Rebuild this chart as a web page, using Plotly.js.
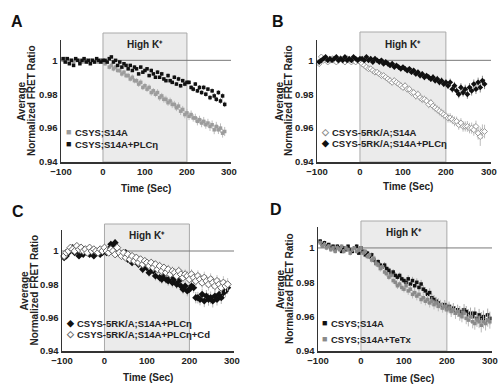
<!DOCTYPE html>
<html><head><meta charset="utf-8">
<script src="https://cdn.plot.ly/plotly-3.0.1.min.js"></script>
<style>html,body{margin:0;padding:0;background:#fff}#chart{width:500px;height:390px}</style>
</head><body><div id="chart"></div><script>
// ---------- data ----------
const timeAC = [-95,-90,-85,-80,-75,-70,-65,-60,-55,-50,-45,-40,-35,-30,-25,-20,-15,-10,-5,0,
  5,10,15,20,25,30,35,40,45,50,55,60,65,70,75,80,85,90,95,100,
  105,110,115,120,125,130,135,140,145,150,155,160,165,170,175,180,185,190,195,200,
  205,210,215,220,225,230,235,240,245,250,255,260,265,270,275,280,285,290];
const timeD = [-95,-90,-85,-80,-75,-70,-65,-60,-55,-50,-45,-40,-35,-30,-25,-20,-15,-10,-5,0,
  5,10,15,20,25,30,35,40,45,50,55,60,65,70,75,80,85,90,95,100,
  105,110,115,120,125,130,135,140,145,150,155,160,165,170,175,180,185,190,195,200,
  205,210,215,220,225,230,235,240,245,250,255,260,265,270,275,280,285,290,295,300];

const xTicks = [-100,0,100,200,300];
const yTicks = [0.94,0.96,0.98,1];
const yTickText = ['0.94','0.96','0.98','1'];

// Panel A
const nameA1 = 'CSYS;S14A';
const valA1 = [1.000,1.001,0.999,1.000,1.000,0.999,1.000,1.000,0.999,0.999,1.000,1.000,0.999,1.000,1.000,0.999,1.000,0.999,1.000,0.999,
  0.998,0.999,0.996,0.997,0.995,0.996,0.994,0.994,0.992,0.993,0.991,0.991,0.989,0.990,0.988,0.988,0.986,0.987,0.984,0.985,
  0.983,0.984,0.981,0.982,0.980,0.981,0.978,0.979,0.977,0.977,0.975,0.976,0.974,0.974,0.972,0.973,0.970,0.971,0.968,0.969,
  0.967,0.968,0.966,0.966,0.964,0.965,0.963,0.964,0.962,0.963,0.961,0.962,0.959,0.961,0.959,0.960,0.957,0.958];
const errA1 = [0.001,0.001,0.0012,0.001,0.0008,0.001,0.0012,0.001,0.001,0.0008,0.001,0.0012,0.001,0.001,0.0008,0.001,0.001,0.0012,0.001,0.001,
  0.0012,0.0012,0.0014,0.0012,0.0015,0.0014,0.0012,0.0015,0.0016,0.0014,0.0015,0.0016,0.0015,0.0017,0.0016,0.0015,0.0017,0.0018,0.0016,0.0017,
  0.0017,0.0018,0.0019,0.0017,0.0018,0.002,0.0019,0.0018,0.002,0.0021,0.0019,0.002,0.0022,0.0021,0.002,0.0022,0.0023,0.0021,0.0022,0.0023,
  0.0023,0.0024,0.0022,0.0025,0.0024,0.0023,0.0025,0.0026,0.0024,0.0025,0.0027,0.0025,0.0026,0.0027,0.0025,0.0028,0.0026,0.0027];
const nameA2 = 'CSYS;S14A+PLCη';
const valA2 = [1.001,0.999,1.001,0.998,1.000,0.997,1.001,1.000,0.998,1.000,1.001,0.999,1.000,0.998,1.000,0.999,1.001,1.000,0.999,1.000,
  1.000,0.999,1.001,1.002,0.999,1.000,0.997,0.999,0.996,0.998,0.997,0.995,0.997,0.994,0.996,0.995,0.992,0.996,0.993,0.994,
  0.995,0.991,0.994,0.992,0.990,0.993,0.990,0.992,0.989,0.988,0.991,0.988,0.987,0.990,0.986,0.989,0.985,0.988,0.986,0.987,
  0.987,0.984,0.983,0.986,0.982,0.984,0.981,0.984,0.980,0.983,0.978,0.982,0.979,0.977,0.981,0.976,0.979,0.974];
const errA2 = [0.0006,0.0007,0.0006,0.0008,0.0006,0.0007,0.0006,0.0007,0.0008,0.0006,0.0007,0.0006,0.0007,0.0008,0.0006,0.0007,0.0006,0.0007,0.0006,0.0007,
  0.0007,0.0008,0.0007,0.0008,0.0009,0.0007,0.0008,0.0009,0.0008,0.0007,0.0009,0.0008,0.0009,0.0008,0.001,0.0009,0.0008,0.001,0.0009,0.001,
  0.0009,0.001,0.0011,0.0009,0.001,0.0011,0.001,0.0012,0.0011,0.001,0.0012,0.0011,0.001,0.0012,0.0011,0.0013,0.0012,0.0011,0.0013,0.0012,
  0.0012,0.0013,0.0014,0.0012,0.0013,0.0014,0.0013,0.0015,0.0014,0.0013,0.0015,0.0014,0.0016,0.0015,0.0014,0.0016,0.0015,0.0016];

// Panel B
const nameB1 = 'CSYS-5RK/A;S14A';
const valB1 = [0.998,1.002,1.000,1.001,0.999,1.000,1.001,1.000,0.999,1.000,1.001,1.000,0.999,1.001,1.000,0.999,1.000,0.999,1.000,0.999,
  0.998,0.997,0.996,0.995,0.995,0.994,0.993,0.993,0.992,0.991,0.991,0.990,0.989,0.988,0.987,0.988,0.987,0.986,0.985,0.984,
  0.985,0.983,0.983,0.981,0.981,0.979,0.980,0.978,0.977,0.977,0.976,0.974,0.975,0.973,0.972,0.971,0.970,0.969,0.968,0.967,
  0.966,0.966,0.965,0.964,0.964,0.962,0.963,0.961,0.961,0.961,0.960,0.960,0.959,0.961,0.957,0.955,0.958,0.958];
const errB1 = [0.0012,0.0015,0.0012,0.0013,0.0011,0.0012,0.0014,0.0012,0.0011,0.0013,0.0012,0.0014,0.0012,0.0011,0.0013,0.0012,0.0011,0.0013,0.0012,0.0014,
  0.0015,0.0016,0.0015,0.0017,0.0016,0.0018,0.0017,0.0016,0.0018,0.0017,0.0019,0.0018,0.0017,0.0019,0.0018,0.002,0.0019,0.0018,0.002,0.0019,
  0.002,0.0021,0.002,0.0022,0.0021,0.0023,0.0022,0.0021,0.0023,0.0022,0.0024,0.0023,0.0022,0.0024,0.0025,0.0024,0.0026,0.0025,0.0027,0.0026,
  0.0027,0.0028,0.0027,0.0029,0.0028,0.003,0.0029,0.0031,0.003,0.0032,0.0031,0.0033,0.0035,0.0034,0.0038,0.0055,0.0042,0.004];
const nameB2 = 'CSYS-5RK/A;S14A+PLCη';
const valB2 = [0.999,1.000,1.001,1.002,1.000,1.001,1.000,1.001,1.002,1.000,1.001,1.000,1.002,1.000,1.001,1.000,1.002,1.001,1.000,1.001,
  1.001,1.000,1.002,1.000,1.001,0.999,1.001,1.000,0.999,1.000,0.998,0.999,0.998,0.997,0.998,0.996,0.997,0.996,0.995,0.996,
  0.995,0.994,0.995,0.993,0.994,0.992,0.993,0.991,0.992,0.990,0.991,0.990,0.989,0.990,0.988,0.989,0.987,0.988,0.986,0.987,
  0.985,0.987,0.983,0.985,0.982,0.980,0.984,0.981,0.983,0.980,0.984,0.982,0.986,0.983,0.987,0.984,0.988,0.986];
const errB2 = [0.0008,0.0009,0.0008,0.0009,0.0008,0.0009,0.0008,0.0009,0.0008,0.0009,0.0008,0.0009,0.0008,0.0009,0.0008,0.0009,0.0008,0.0009,0.0008,0.0009,
  0.0009,0.001,0.0009,0.001,0.0011,0.001,0.0011,0.001,0.0012,0.0011,0.0012,0.0011,0.0013,0.0012,0.0013,0.0012,0.0014,0.0013,0.0014,0.0013,
  0.0014,0.0015,0.0014,0.0016,0.0015,0.0016,0.0015,0.0017,0.0016,0.0017,0.0016,0.0018,0.0017,0.0018,0.0017,0.0019,0.0018,0.0019,0.0018,0.002,
  0.002,0.0022,0.0021,0.0023,0.0022,0.0024,0.0025,0.0024,0.0026,0.0027,0.0026,0.0028,0.0027,0.0029,0.0028,0.003,0.0029,0.003];

// Panel C
const nameC1 = 'CSYS-5RK/A;S14A+PLCη';
const valC1 = [0.996,0.997,0.999,1.001,1.002,0.999,1.000,0.997,1.002,0.998,1.001,0.999,0.998,1.000,0.997,0.999,1.000,0.998,0.999,1.001,
  0.999,1.001,1.004,1.003,1.005,1.000,0.999,0.998,0.997,0.999,0.995,0.996,0.993,0.995,0.994,0.992,0.993,0.989,0.991,0.990,
  0.987,0.990,0.988,0.985,0.989,0.984,0.983,0.985,0.983,0.982,0.984,0.981,0.983,0.980,0.982,0.979,0.977,0.979,0.976,0.977,
  0.979,0.978,0.972,0.972,0.971,0.974,0.970,0.973,0.971,0.972,0.970,0.973,0.971,0.974,0.972,0.975,0.976,0.978];
const errC1 = [0.0015,0.0016,0.0015,0.0017,0.0016,0.0015,0.0017,0.0016,0.0015,0.0017,0.0016,0.0015,0.0017,0.0016,0.0015,0.0016,0.0017,0.0015,0.0016,0.0017,
  0.0018,0.0019,0.0022,0.002,0.0021,0.0019,0.002,0.0022,0.0021,0.002,0.0022,0.0023,0.0021,0.0022,0.0024,0.0023,0.0022,0.0024,0.0025,0.0023,
  0.0025,0.0026,0.0024,0.0027,0.0026,0.0028,0.0027,0.0026,0.0028,0.0029,0.0027,0.0029,0.003,0.0028,0.003,0.0031,0.0029,0.0031,0.0032,0.003,
  0.0032,0.0033,0.0034,0.0035,0.0036,0.0034,0.0037,0.0036,0.0038,0.0037,0.0039,0.0038,0.0037,0.0039,0.0038,0.004,0.0038,0.0039];
const nameC2 = 'CSYS-5RK/A;S14A+PLCη+Cd';
const valC2 = [0.997,0.999,1.000,1.002,1.001,1.000,1.003,1.001,1.002,1.000,1.001,0.999,1.002,1.000,1.001,1.000,0.999,1.001,1.000,1.002,
  1.000,0.999,1.001,1.000,0.998,1.002,0.999,0.997,0.999,0.996,0.998,0.995,0.997,0.994,0.996,0.993,0.995,0.992,0.994,0.993,
  0.991,0.993,0.990,0.992,0.989,0.991,0.988,0.990,0.987,0.989,0.986,0.988,0.987,0.985,0.988,0.986,0.984,0.986,0.985,0.983,
  0.986,0.984,0.982,0.985,0.983,0.981,0.984,0.982,0.980,0.983,0.981,0.979,0.982,0.980,0.978,0.981,0.979,0.980];
const errC2 = [0.0014,0.0015,0.0014,0.0016,0.0015,0.0014,0.0016,0.0015,0.0014,0.0016,0.0015,0.0014,0.0016,0.0015,0.0014,0.0015,0.0016,0.0014,0.0015,0.0016,
  0.0017,0.0018,0.002,0.0019,0.002,0.0018,0.0019,0.0021,0.002,0.0019,0.0021,0.0022,0.002,0.0021,0.0023,0.0022,0.0021,0.0023,0.0024,0.0022,
  0.0024,0.0025,0.0023,0.0026,0.0025,0.0027,0.0026,0.0025,0.0027,0.0028,0.0026,0.0028,0.0029,0.0027,0.0029,0.003,0.0028,0.003,0.0031,0.0029,
  0.0031,0.0032,0.0033,0.0034,0.0035,0.0033,0.0036,0.0035,0.0037,0.0036,0.0038,0.0037,0.0036,0.0038,0.0037,0.0039,0.0037,0.0038];

// Panel D
const nameD1 = 'CSYS;S14A';
const valD1 = [1.004,1.002,1.003,1.001,1.002,1.000,1.001,0.999,1.001,1.000,0.998,1.000,0.999,1.001,0.999,0.998,1.000,1.001,0.997,1.000,
  0.998,0.996,0.997,0.995,0.996,0.993,0.991,0.992,0.990,0.989,0.990,0.988,0.987,0.985,0.986,0.984,0.983,0.984,0.982,0.981,
  0.980,0.982,0.979,0.981,0.978,0.980,0.977,0.979,0.976,0.975,0.973,0.974,0.971,0.970,0.969,0.968,0.967,0.966,0.967,0.965,
  0.966,0.964,0.965,0.963,0.964,0.963,0.962,0.964,0.963,0.961,0.962,0.960,0.962,0.959,0.961,0.959,0.960,0.958,0.961,0.959];
const errD1 = [0.0012,0.0011,0.0013,0.0012,0.0011,0.0013,0.0012,0.0011,0.0013,0.0012,0.0011,0.0013,0.0012,0.0011,0.0013,0.0012,0.0011,0.0013,0.0012,0.0011,
  0.0014,0.0015,0.0014,0.0016,0.0015,0.0017,0.0016,0.0015,0.0017,0.0016,0.0018,0.0017,0.0016,0.0018,0.0017,0.0019,0.0018,0.0017,0.0019,0.0018,
  0.002,0.0021,0.002,0.0022,0.0021,0.0023,0.0022,0.0024,0.0023,0.0022,0.0024,0.0025,0.0024,0.0026,0.0025,0.0027,0.0026,0.0025,0.0027,0.0028,
  0.0028,0.003,0.0029,0.0031,0.003,0.0032,0.0031,0.0033,0.0032,0.0034,0.0033,0.0035,0.0034,0.0036,0.0035,0.0037,0.0036,0.0038,0.0037,0.0039];
const nameD2 = 'CSYS;S14A+TeTx';
const valD2 = [1.003,1.001,1.002,1.000,1.001,0.999,1.000,0.998,1.000,0.999,1.001,0.998,1.000,0.999,0.997,0.999,1.000,0.998,0.999,1.000,
  0.997,0.998,0.995,0.996,0.993,0.994,0.991,0.990,0.988,0.989,0.986,0.985,0.983,0.984,0.981,0.980,0.978,0.979,0.977,0.976,
  0.978,0.975,0.976,0.973,0.974,0.972,0.973,0.970,0.971,0.969,0.970,0.968,0.969,0.967,0.968,0.966,0.967,0.965,0.966,0.964,
  0.965,0.963,0.964,0.962,0.963,0.961,0.960,0.962,0.959,0.958,0.960,0.957,0.956,0.958,0.957,0.955,0.957,0.956,0.958,0.957];
const errD2 = [0.0013,0.0012,0.0014,0.0013,0.0012,0.0014,0.0013,0.0012,0.0014,0.0013,0.0012,0.0014,0.0013,0.0012,0.0014,0.0013,0.0012,0.0014,0.0013,0.0012,
  0.0015,0.0016,0.0015,0.0017,0.0016,0.0018,0.0017,0.0016,0.0018,0.0017,0.0019,0.0018,0.0017,0.0019,0.0018,0.002,0.0019,0.0018,0.002,0.0019,
  0.0022,0.0023,0.0022,0.0024,0.0023,0.0025,0.0024,0.0026,0.0025,0.0024,0.0026,0.0027,0.0026,0.0028,0.0027,0.0029,0.0028,0.0027,0.0029,0.003,
  0.003,0.0032,0.0031,0.0033,0.0032,0.0034,0.0033,0.0036,0.0034,0.0037,0.0035,0.0038,0.0036,0.004,0.0037,0.0042,0.0038,0.0041,0.0039,0.004];

const stimStart = 0, stimEnd = 200, baseline = 1;
const stimLabel = 'High K⁺';
const yTitle1 = 'Average', yTitle2 = 'Normalized FRET Ratio', xTitle = 'Time (Sec)';

// ---------- layout helpers ----------
const W = 500, H = 390;
const px = p => p / W;
const py = p => 1 - p / H;
const FONT = 'Liberation Sans, Arial, sans-serif';
const TXT = '#222';

const panels = [
  {id:'', L:61,  R:231, T:40,  B:162, shade:33,  ymax:1.012,  letter:'A', lx:17, ly:21, hk:44,  yt:[22,32],   xtY:188},
  {id:'2',L:317, R:491, T:40,  B:162, shade:32,  ymax:1.012,  letter:'B', lx:278,ly:21, hk:44,  yt:[280,289], xtY:186},
  {id:'3',L:62,  R:234, T:230, B:351, shade:224, ymax:1.0126, letter:'C', lx:18, ly:212,hk:235, yt:[24,34],   xtY:377},
  {id:'4',L:318, R:492, T:227, B:351, shade:221, ymax:1.0122, letter:'D', lx:276,ly:209,hk:232, yt:[280,289], xtY:378}
];

function trace(p, t, v, e, name, marker, errColor) {
  return {
    type:'scatter', mode:'markers', x:t, y:v, name:name,
    xaxis:'x'+p.id, yaxis:'y'+p.id, showlegend:false, cliponaxis:false,
    marker:marker,
    error_y:{type:'data', array:e, visible:true, color:errColor, thickness:1, width:0}
  };
}

const sqGray = {symbol:'square', size:3.5, color:'#9c9c9c'};
const sqBlack = {symbol:'square', size:3.5, color:'#111'};
const data = [
  trace(panels[0], timeAC, valA1, errA1, nameA1, sqGray, '#bdbdbd'),
  trace(panels[0], timeAC, valA2, errA2, nameA2, sqBlack, '#777'),
  trace(panels[1], timeAC, valB1, errB1, nameB1, {symbol:'diamond', size:4.5, color:'#fff', line:{color:'#999', width:1}}, '#bdbdbd'),
  trace(panels[1], timeAC, valB2, errB2, nameB2, {symbol:'diamond', size:4.5, color:'#111'}, '#888'),
  trace(panels[2], timeAC, valC1, errC1, nameC1, {symbol:'diamond', size:5.5, color:'#111'}, '#b5b5b5'),
  trace(panels[2], timeAC, valC2, errC2, nameC2, {symbol:'diamond', size:5.5, color:'#fff', line:{color:'#666', width:1}}, '#c5c5c5'),
  trace(panels[3], timeD, valD1, errD1, nameD1, sqBlack, '#aaa'),
  trace(panels[3], timeD, valD2, errD2, nameD2, {symbol:'square', size:3.5, color:'#8a8a8a'}, '#bbb')
];

const layout = {
  width:W, height:H, margin:{l:0,r:0,t:0,b:0},
  paper_bgcolor:'#fff', plot_bgcolor:'rgba(0,0,0,0)',
  font:{family:FONT, color:TXT, size:9, weight:'bold'},
  showlegend:false, shapes:[], annotations:[]
};

const legends = [
  [['■','#9c9c9c',nameA1],['■','#111',nameA2]],
  [['◇','#888',nameB1],['◆','#111',nameB2]],
  [['◆','#111',nameC1],['◇','#666',nameC2]],
  [['■','#111',nameD1],['■','#8a8a8a',nameD2]]
];
const legendPos = [
  {gx:68, tx:73,  y:[132,144]},
  {gx:325,tx:330, y:[132,143]},
  {gx:70, tx:75,  y:[323,334]},
  {gx:324,tx:329, y:[323,339]}
];

panels.forEach((p, i) => {
  const tf = {size:9.5, family:FONT, color:TXT, weight:'bold'};
  const af = {size:10, family:FONT, color:TXT, weight:'bold'};
  layout['xaxis'+p.id] = {
    domain:[px(p.L), px(p.R)], range:[-100, 305], anchor:'y'+p.id,
    showline:true, linecolor:'#333', linewidth:1.5, showgrid:false, zeroline:false,
    tickvals:xTicks, ticks:'', tickfont:tf
  };
  layout['yaxis'+p.id] = {
    domain:[py(p.B), py(p.T)], range:[0.94, p.ymax], anchor:'x'+p.id,
    showline:true, linecolor:'#333', linewidth:1.5, showgrid:false, zeroline:false,
    tickvals:yTicks, ticktext:yTickText, ticks:'', tickfont:tf
  };

  layout.shapes.push({type:'rect', xref:'x'+p.id, yref:'paper', x0:stimStart, x1:stimEnd,
    y0:py(p.B), y1:py(p.shade), fillcolor:'#ebebeb', line:{color:'#a9a9a9', width:1}, layer:'below'});
  layout.shapes.push({type:'line', xref:'x'+p.id, yref:'y'+p.id, x0:-100, x1:305, y0:baseline, y1:baseline,
    line:{color:'#7a7a7a', width:1}, layer:'below'});

  layout.annotations.push({xref:'paper', yref:'paper', x:px(p.lx), y:py(p.ly), text:p.letter, showarrow:false,
    xanchor:'center', yanchor:'middle', font:{size:16, family:FONT, color:'#111', weight:'bold'}});
  layout.annotations.push({xref:'x'+p.id, yref:'paper', x:100, y:py(p.hk), text:stimLabel, showarrow:false,
    xanchor:'center', yanchor:'middle', font:af});
  const yc = py((p.T+p.B)/2);
  layout.annotations.push({xref:'paper', yref:'paper', x:px(p.yt[0]), y:yc, text:yTitle1,
    textangle:-90, showarrow:false, xanchor:'center', yanchor:'middle', font:af});
  layout.annotations.push({xref:'paper', yref:'paper', x:px(p.yt[1]), y:yc, text:yTitle2,
    textangle:-90, showarrow:false, xanchor:'center', yanchor:'middle', font:af});
  layout.annotations.push({xref:'paper', yref:'paper', x:px((p.L+p.R)/2 + (i%2 ? 4 : 0)), y:py(p.xtY), text:xTitle,
    showarrow:false, xanchor:'center', yanchor:'middle', font:af});

  legends[i].forEach((item, k) => {
    const yy = py(legendPos[i].y[k]);
    layout.annotations.push({xref:'paper', yref:'paper', x:px(legendPos[i].gx), y:yy, text:item[0],
      showarrow:false, xanchor:'center', yanchor:'middle', font:{size:9, family:FONT, color:item[1], weight:'bold'}});
    layout.annotations.push({xref:'paper', yref:'paper', x:px(legendPos[i].tx), y:yy, text:item[2],
      showarrow:false, xanchor:'left', yanchor:'middle', font:{size:9.5, family:FONT, color:TXT, weight:'bold'}});
  });
});

Plotly.newPlot('chart', data, layout, {displayModeBar:false, staticPlot:true});
</script></body></html>
